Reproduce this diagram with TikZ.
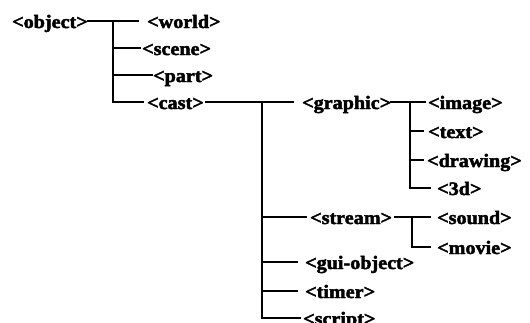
\documentclass[tikz,border=0pt]{standalone}
\usepackage{fontspec}
\setmainfont{Liberation Serif}[FakeStretch=1.06]
% slightly heavier strokes for the tag labels
\newcommand{\heavytext}[1]{\special{pdf:literal direct 2 Tr 0.45 w}#1\special{pdf:literal direct 0 Tr}}
\begin{document}
\begin{tikzpicture}[x=1pt,y=-1pt,
  tag/.style={anchor=west,inner sep=0pt,text height=14pt,text depth=0pt,
              font=\fontsize{19}{22}\selectfont\bfseries,
              execute at begin node=\special{pdf:literal direct 2 Tr 0.45 w},
              execute at end node=\special{pdf:literal direct 0 Tr}},
  link/.style={line width=1.8pt,line cap=rect}]
\useasboundingbox (0,0) rectangle (530,322);

% level 0
\node[tag] (object) at (12,21) {<object>};
\node[tag] (world)  at (147,21) {<world>};
\node[tag] (scene)  at (142,48) {<scene>};
\node[tag] (part)   at (153,75) {<part>};
\node[tag] (cast)   at (147,102) {<cast>};

% level 1 (children of cast)
\node[tag] (graphic) at (302,102) {<graphic>};
\node[tag] (stream)  at (310,217) {<stream>};
\node[tag] (gui)     at (305,262) {<gui-object>};
\node[tag] (timer)   at (305,291) {<timer>};
\node[tag] (script)  at (303,318) {<script>};

% level 2
\node[tag] (image)   at (428,102) {<image>};
\node[tag] (text)    at (428,131) {<text>};
\node[tag] (drawing) at (427,160) {<drawing>};
\node[tag] (nthreed) at (437,188) {<3d>};
\node[tag] (sound)   at (437,217) {<sound>};
\node[tag] (movie)   at (437,247) {<movie>};

% junctions of the tree
\coordinate (j0) at (113,21);
\coordinate (j1) at (262,102);
\coordinate (j2) at (410,102);
\coordinate (j3) at (412,217);

% object branch
\draw[link,shorten >=9pt] (object.east) -- (world.west);
\draw[link,shorten >=4pt] (j0) |- (cast.west);
\draw[link,shorten >=2pt] (j0 |- scene.west) -- (scene.west);
\draw[link,shorten >=1pt] (j0 |- part.west) -- (part.west);

% cast branch
\draw[link,shorten <=2pt,shorten >=9pt] (cast.east) -- (graphic.west);
\draw[link,shorten >=3pt] (j1) |- (script.west);
\draw[link,shorten >=4pt] (j1 |- stream.west) -- (stream.west);
\draw[link,shorten >=8pt] (j1 |- gui.west) -- (gui.west);
\draw[link,shorten >=8pt] (j1 |- timer.west) -- (timer.west);

% graphic branch
\draw[link,shorten >=3pt] (graphic.east) -- (image.west);
\draw[link,shorten >=7pt] (j2) |- (nthreed.west);
\draw[link,shorten >=5pt] (j2 |- text.west) -- (text.west);
\draw[link,shorten >=4pt] (j2 |- drawing.west) -- (drawing.west);

% stream branch
\draw[link,shorten <=3pt,shorten >=7pt] (stream.east) -- (sound.west);
\draw[link,shorten >=7pt] (j3) |- (movie.west);
\end{tikzpicture}
\end{document}
